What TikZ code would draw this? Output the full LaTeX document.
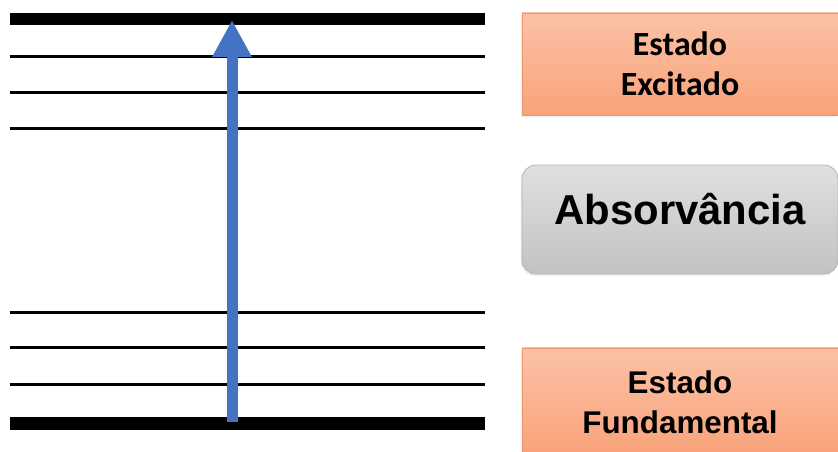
\documentclass[tikz,border=0pt]{standalone}
\usepackage{fontspec}
\setmainfont{Liberation Sans}
\newfontfamily\calibri{Carlito}
\usetikzlibrary{arrows.meta, shadows}
\definecolor{salmonTop}{RGB}{252, 194, 166}
\definecolor{salmonBot}{RGB}{249, 162, 122}
\definecolor{salmonLine}{RGB}{238, 150, 108}
\definecolor{greyTop}{RGB}{224, 224, 224}
\definecolor{greyBot}{RGB}{194, 194, 194}
\definecolor{arrowBlue}{RGB}{68, 114, 196}
\tikzset{
    x=1bp, y=-1bp, % coordenadas em pixels, y para baixo
    %
    % niveis de energia
    level/.style={draw=black, line width=3bp},
    mainLevel/.style={draw=black, line width=12.5bp},
    %
    % caixas de estado
    stateBox/.style={
        rectangle, draw=salmonLine, line width=0.8bp,
        top color=salmonTop, bottom color=salmonBot,
        minimum width=316bp, inner sep=0pt, align=center,
        drop shadow={opacity=0.12, shadow xshift=-1.5bp, shadow yshift=-2bp}
    },
    absBox/.style={
        rectangle, rounded corners=14bp, draw=black!30, line width=0.8bp,
        top color=greyTop, bottom color=greyBot,
        minimum width=316bp, minimum height=109bp, inner sep=0pt,
        text height=20bp, text depth=9bp,
        font=\bfseries\fontsize{42}{48}\selectfont,
        drop shadow={opacity=0.12, shadow xshift=-1.5bp, shadow yshift=-2bp}
    },
    %
    % transicao
    transition/.style={
        draw=arrowBlue, line width=11bp,
        -{Triangle[width=37bp, length=37bp]}
    }
}

\begin{document}
\begin{tikzpicture}
    \useasboundingbox (0,0) rectangle (838,452);

    %% niveis
    \draw[mainLevel] (10,19) -- (485,19);
    \foreach \y in {57, 93, 129, 313, 348, 384}
        \draw[level] (10,\y) -- (485,\y);
    \draw[mainLevel] (10,423.5) -- (485,423.5);

    \coordinate (ground) at (232,422);
    \coordinate (excited) at (232,20);

    %% absorcao
    \draw[transition] (ground) -- (excited);

    %% legendas
    \node (exc) [stateBox, minimum height=102bp,
        font=\calibri\bfseries\fontsize{34}{40}\selectfont]
        at (680,64) {Estado\\Excitado};
    \node (abs) [absBox] at (680,219.5) {Absorvância};
    \node (fund) [stateBox, minimum height=108bp,
        font=\bfseries\fontsize{31.5}{40}\selectfont]
        at (680,402) {Estado\\Fundamental};

\end{tikzpicture}
\end{document}
